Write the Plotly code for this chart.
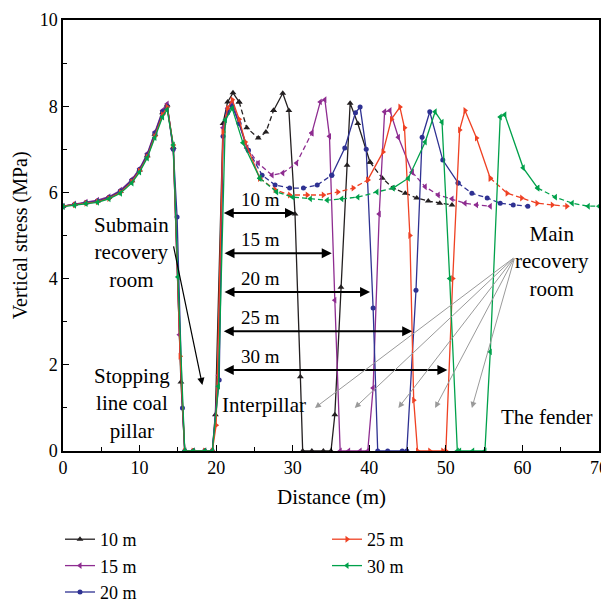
import plotly.graph_objects as go

FONT = "Liberation Serif"

series_names = ["10 m", "15 m", "20 m", "25 m", "30 m"]

x_10 = [0, 1.5, 3, 4.5, 6, 7.5, 9, 10, 11, 12, 13, 13.6, 14.4, 15.4, 15.9, 17, 18.5, 19.5, 19.9, 20.9,
        21.5, 22.2, 23, 24, 25.5, 26.5, 27.5, 28.7, 29.5, 30.3, 31, 31.3, 32.5, 34, 35, 35.5, 36.3, 37.1, 37.5, 38.5,
        40.1, 41.7, 43.1, 44.7, 46.2, 47.7, 49.2, 50.8]
y_10 = [5.68, 5.72, 5.76, 5.8, 5.88, 6.02, 6.27, 6.52, 6.85, 7.35, 7.85, 8.03, 7.05, 1.6, 0, 0, 0, 0, 0.84, 7.6,
        8.1, 8.31, 8.1, 7.5, 7.26, 7.4, 7.9, 8.3, 7.9, 5.5, 1.72, 0, 0, 0, 0, 0.84, 3.8, 6.63, 8.07, 7.6,
        6.7, 6.33, 6.1, 5.98, 5.87, 5.8, 5.75, 5.71]

x_15 = [0, 1.5, 3, 4.5, 6, 7.5, 9, 10, 11, 12, 13, 13.6, 14.4, 15.2, 15.9, 17, 18.5, 19.5, 20.3, 20.9,
        21.5, 22.1, 23, 24, 25.5, 27.3, 28.7, 30.5, 32.5, 33.6, 34.2, 34.8, 35.5, 36.2, 37.3, 38.8, 39.8, 40.5, 41.3, 42,
        42.7, 43.8, 45.6, 47.3, 49, 50.8, 52.5, 54, 55.8]
y_15 = [5.68, 5.73, 5.77, 5.82, 5.9, 6.05, 6.3, 6.55, 6.9, 7.4, 7.9, 8.05, 7.0, 2.7, 0, 0, 0, 0, 1.76, 7.5,
        7.95, 8.1, 7.6, 7.03, 6.68, 6.4, 6.45, 6.68, 7.38, 8.1, 8.15, 7.3, 3.5, 0, 0, 0, 0, 1.46, 5.5, 7.87,
        7.9, 7.28, 6.47, 6.13, 5.94, 5.85, 5.75, 5.71, 5.68]

x_20 = [0, 1.5, 3, 4.5, 6, 7.5, 9, 10, 11, 12, 13, 13.6, 14.4, 14.9, 15.6, 15.9, 17, 18.5, 19.5, 20.4,
        20.9, 21.5, 22.1, 23, 24.2, 26, 27.7, 29.6, 31.4, 33.2, 35.1, 36.8, 38.2, 38.8, 39.6, 40.5, 41.1, 42.4, 44.3, 44.9,
        46.1, 46.9, 47.9, 49.6, 51.6, 53.4, 55.4, 57.1, 58.8, 60.7]
y_20 = [5.68, 5.72, 5.76, 5.8, 5.88, 6.03, 6.28, 6.53, 6.87, 7.37, 7.87, 8.0, 7.0, 5.43, 1.0, 0, 0, 0, 0, 1.65,
        7.3, 7.85, 8.0, 7.6, 6.98, 6.4, 6.17, 6.1, 6.1, 6.17, 6.4, 7.03, 7.85, 7.98, 7.0, 3.32, 0, 0, 0, 0,
        3.73, 7.28, 7.87, 6.75, 6.22, 5.98, 5.87, 5.75, 5.71, 5.68]

x_25 = [0, 1.5, 3, 4.5, 6, 7.5, 9, 10, 11, 12, 13, 13.6, 14.4, 15.3, 15.9, 17, 18.5, 19.5, 20, 20.9,
        21.5, 22.1, 23, 23.8, 25.7, 27.7, 29.6, 31.9, 34, 35.9, 37.9, 39.8, 41.8, 42.9, 44, 44.6, 45.3, 45.8, 46.3, 47.9,
        49.6, 50, 50.9, 51.8, 52.5, 54, 55.8, 58, 59.9, 61.9, 63.9, 65.8]
y_25 = [5.68, 5.71, 5.75, 5.78, 5.86, 6.0, 6.25, 6.5, 6.82, 7.3, 7.8, 7.98, 7.1, 2.2, 0, 0, 0, 0, 0.6, 7.4,
        7.95, 8.15, 7.7, 7.17, 6.33, 6.06, 5.94, 5.94, 5.94, 6.01, 6.1, 6.29, 6.94, 7.7, 7.98, 7.5, 5.0, 1.18, 0, 0,
        0, 0, 4.0, 7.45, 7.9, 7.26, 6.33, 5.98, 5.87, 5.75, 5.71, 5.68]

x_30 = [0, 1.5, 3, 4.5, 6, 7.5, 9, 10, 11, 12, 13, 13.6, 14.4, 15.0, 15.9, 17, 18.5, 19.5, 20.3, 21.2,
        22.1, 23.5, 25.7, 27.9, 30, 32.3, 34.5, 36.4, 38.5, 41, 43.1, 45.1, 47.3, 48.6, 49.5, 50.5, 51.5, 51.8, 53.5, 55.1,
        55.8, 57.1, 57.7, 60.1, 62, 64.3, 66.5, 68.6, 70]
y_30 = [5.67, 5.7, 5.74, 5.77, 5.85, 5.98, 6.22, 6.47, 6.8, 7.27, 7.75, 7.92, 7.1, 4.04, 0, 0, 0, 0, 1.5, 7.68,
        7.95, 7.15, 6.33, 6.01, 5.89, 5.85, 5.82, 5.85, 5.89, 6.01, 6.1, 6.33, 7.17, 7.87, 7.63, 4.0, 0, 0, 0, 0,
        2.3, 7.75, 7.8, 6.57, 6.1, 5.89, 5.75, 5.68, 5.68]

xs_all = [x_10, x_15, x_20, x_25, x_30]
ys_all = [y_10, y_15, y_20, y_25, y_30]

# style
colors = ["#231f20", "#8e2c90", "#2e3192", "#ef4123", "#00a14b"]
symbols = ["triangle-up", "triangle-left", "circle", "triangle-right", "triangle-left"]
msizes = [6, 6, 5, 6, 6]
dash_ranges = [
    [(23, 27.5), (40.1, 99)],
    [(24, 32.5), (45.6, 99)],
    [(24.2, 35.1), (51.6, 99)],
    [(25.7, 39.8), (55.8, 99)],
    [(25.7, 43.1), (62, 99)],
]
legend_of = ["legend", "legend", "legend", "legend2", "legend2"]


def runs(xs, ranges):
    out = []
    cur, cur_style = [], None
    for i in range(len(xs) - 1):
        mid = (xs[i] + xs[i + 1]) / 2
        st = "5px,3px" if any(a <= mid <= b for a, b in ranges) else "solid"
        if st != cur_style:
            if cur:
                out.append((cur_style, cur))
            cur, cur_style = [i, i + 1], st
        else:
            cur.append(i + 1)
    out.append((cur_style, cur))
    return out


fig = go.Figure()
for k, name in enumerate(series_names):
    xs, ys = xs_all[k], ys_all[k]
    first = True
    for st, idx in runs(xs, dash_ranges[k]):
        fig.add_trace(go.Scatter(
            x=[xs[i] for i in idx], y=[ys[i] for i in idx],
            mode="lines+markers", name=name, legendgroup=name,
            showlegend=first, legend=legend_of[k],
            line=dict(color=colors[k], width=1.3, dash=st),
            marker=dict(symbol=symbols[k], size=msizes[k], color=colors[k]),
        ))
        first = False

axis_common = dict(
    showline=True, linecolor="black", linewidth=1.5, mirror=True, automargin=False,
    showgrid=False, zeroline=False, ticks="inside", ticklen=6, tickwidth=1.2,
    tickcolor="black", tickfont=dict(family=FONT, size=18, color="black"),
)
fig.update_xaxes(range=[0, 70], dtick=10, tick0=0,
                 minor=dict(ticks="inside", dtick=5, ticklen=4, tickcolor="black"),
                 **axis_common)
fig.update_yaxes(range=[0, 10], dtick=2, tick0=0,
                 minor=dict(ticks="inside", dtick=1, ticklen=4, tickcolor="black"),
                 **axis_common)

ann = []
# axis titles
ann.append(dict(x=0.5, y=-0.107, xref="paper", yref="paper", text="Distance (m)", showarrow=False,
                xanchor="center", yanchor="middle", font=dict(family=FONT, size=21, color="black")))
ann.append(dict(x=-0.079, y=0.5, xref="paper", yref="paper", text="Vertical stress (MPa)", showarrow=False,
                textangle=-90, xanchor="center", yanchor="middle",
                font=dict(family=FONT, size=20, color="black")))

# span arrows
span_labels = ["10 m", "15 m", "20 m", "25 m", "30 m"]
span_start = [20.8, 20.9, 20.9, 20.8, 20.8]
span_end = [30.3, 35.1, 40.1, 45.6, 50.2]
span_y = [5.52, 4.59, 3.69, 2.78, 1.88]
for lab, a, b, yy in zip(span_labels, span_start, span_end, span_y):
    ann.append(dict(x=b, y=yy, ax=a, ay=yy, xref="x", yref="y", axref="x", ayref="y",
                    text="", showarrow=True, arrowhead=2, arrowside="end+start",
                    arrowsize=1, arrowwidth=2, arrowcolor="black", standoff=0, startstandoff=0))
    ann.append(dict(x=25.8, y=yy + 0.02, xref="x", yref="y", text=lab, showarrow=False,
                    yanchor="bottom", font=dict(family=FONT, size=19, color="black")))

# gray arrows from "Main recovery room"
main_targets = [32.9, 38.1, 43.8, 48.6, 53.4]
for t in main_targets:
    ann.append(dict(x=t, y=1.0, ax=59.0, ay=4.5, xref="x", yref="y", axref="x", ayref="y",
                    text="", showarrow=True, arrowhead=2, arrowsize=1.2, arrowwidth=1,
                    arrowcolor="#9a9a9a", standoff=0))

# submain arrow
ann.append(dict(x=18.2, y=1.53, ax=14.4, ay=4.78, xref="x", yref="y", axref="x", ayref="y",
                text="", showarrow=True, arrowhead=2, arrowsize=1.2, arrowwidth=1.2,
                arrowcolor="black", standoff=0))

texts = [
    ("Submain<br>recovery<br>room", 9.0, 4.6),
    ("Stopping<br>line coal<br>pillar", 9.0, 1.11),
    ("Interpillar", 26.3, 1.07),
    ("Main<br>recovery<br>room", 63.9, 4.39),
    ("The fender", 63.2, 0.79),
]
for t, xx, yy in texts:
    ann.append(dict(x=xx, y=yy, xref="x", yref="y", text=t, showarrow=False,
                    align="center", font=dict(family=FONT, size=21, color="black")))

W, H = 601, 595
legend_style = dict(font=dict(family=FONT, size=18, color="black"), bgcolor="rgba(0,0,0,0)",
                    itemwidth=30, tracegroupgap=0, orientation="v",
                    xanchor="left", yanchor="top", yref="container", xref="container")

fig.update_layout(
    width=W, height=H,
    margin=dict(l=55, r=10, t=12, b=152, autoexpand=False),
    paper_bgcolor="white", plot_bgcolor="white",
    annotations=ann,
    legend=dict(x=52 / W, y=1 - 513 / H, **legend_style),
    legend2=dict(x=319 / W, y=1 - 513 / H, **legend_style),
)

fig.write_html("out.html")
